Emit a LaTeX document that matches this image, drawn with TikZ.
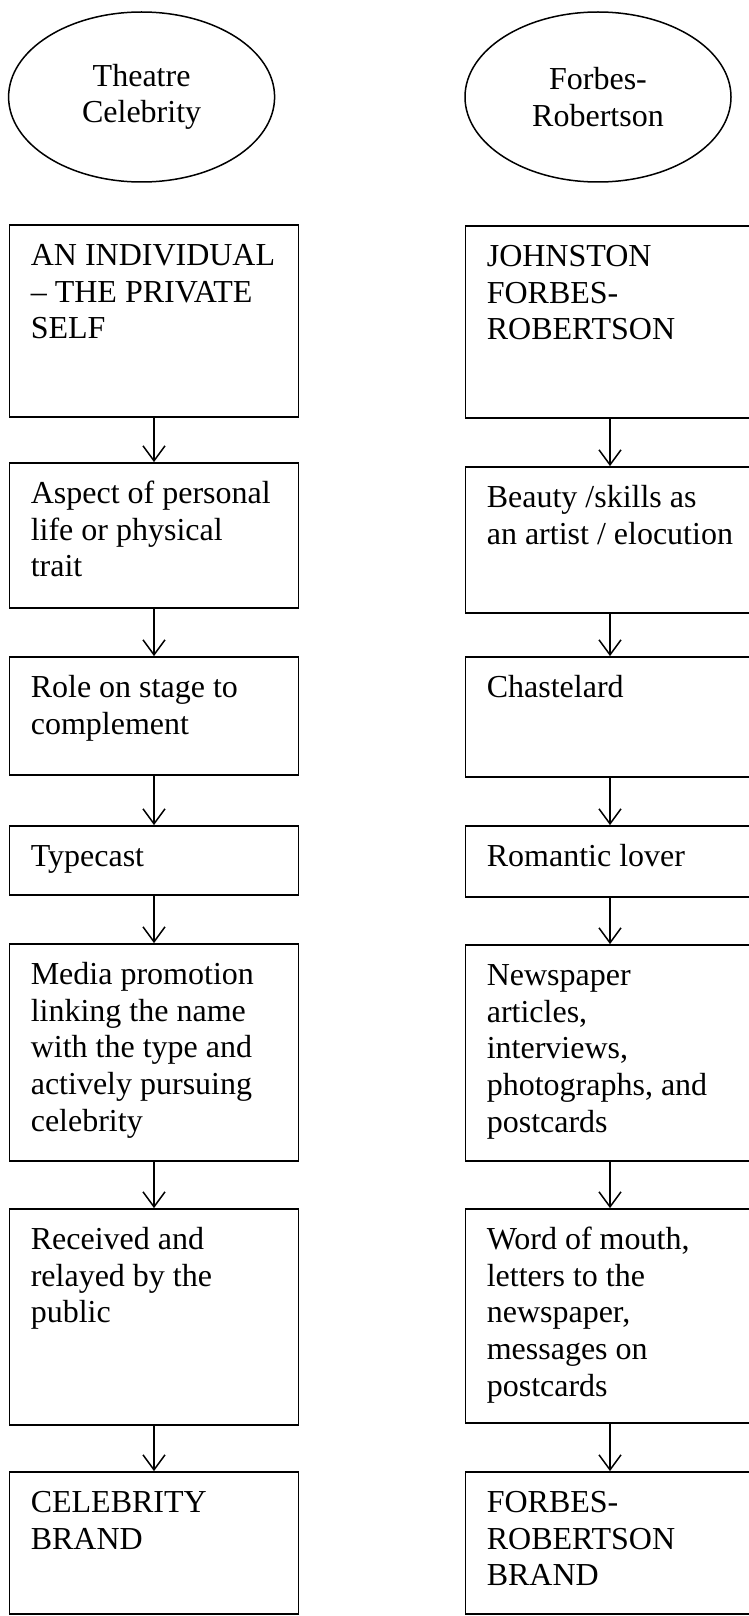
\documentclass[tikz,border=0pt]{standalone}
\usepackage{fontspec}
\setmainfont{Liberation Serif}
\usetikzlibrary{shapes.geometric,arrows.meta}
\tikzset{
  box/.style={draw, line width=1.8pt, rectangle, minimum width=289pt, inner sep=0pt},
  txt/.style={anchor=north west, inner sep=0pt, align=left, font=\fontsize{32}{36.7}\selectfont},
  oval/.style={draw, line width=1.5pt, ellipse, minimum width=266pt, minimum height=170pt, inner sep=0pt, align=center, font=\fontsize{32}{36.7}\selectfont},
  arr/.style={line width=1.5pt, -{Straight Barb[length=15pt,width=22pt,line width=1.5pt]}}
}
\newcommand{\fl}{\rule{0pt}{25pt}}
\begin{document}
\begin{tikzpicture}[x=1pt,y=-1pt]
\useasboundingbox (0,0) rectangle (749,1616);
% ellipses
\node[oval] (LE) at (141.6,97) {Theatre\\Celebrity};
\node[oval] (RE) at (598,97) {Forbes-\\Robertson};
% left column
\node[box, minimum height=192pt] (L1) at (154,321) {};
\node[box, minimum height=145pt] (L2) at (154,535.5) {};
\node[box, minimum height=118pt] (L3) at (154,716) {};
\node[box, minimum height=69pt] (L4) at (154,860.5) {};
\node[box, minimum height=217pt] (L5) at (154,1052.5) {};
\node[box, minimum height=216pt] (L6) at (154,1317) {};
\node[box, minimum height=142pt] (L7) at (154,1543) {};
% right column
\node[box, minimum height=192pt] (R1) at (610,322) {};
\node[box, minimum height=146pt] (R2) at (610,540) {};
\node[box, minimum height=120pt] (R3) at (610,717) {};
\node[box, minimum height=71pt] (R4) at (610,861.5) {};
\node[box, minimum height=216pt] (R5) at (610,1053) {};
\node[box, minimum height=214pt] (R6) at (610,1316) {};
\node[box, minimum height=142pt] (R7) at (610,1543) {};
% texts left
\node[txt] (L1t) at ([xshift=22pt,yshift=-16pt]L1.north west) {\fl AN INDIVIDUAL\\– THE PRIVATE\\SELF};
\node[txt] (L2t) at ([xshift=22pt,yshift=-16pt]L2.north west) {\fl Aspect of personal\\life or physical\\trait};
\node[txt] (L3t) at ([xshift=22pt,yshift=-16pt]L3.north west) {\fl Role on stage to\\complement};
\node[txt] (L4t) at ([xshift=22pt,yshift=-16pt]L4.north west) {\fl Typecast};
\node[txt] (L5t) at ([xshift=22pt,yshift=-16pt]L5.north west) {\fl Media promotion\\linking the name\\with the type and\\actively pursuing\\celebrity};
\node[txt] (L6t) at ([xshift=22pt,yshift=-16pt]L6.north west) {\fl Received and\\relayed by the\\public};
\node[txt] (L7t) at ([xshift=22pt,yshift=-16pt]L7.north west) {\fl CELEBRITY\\BRAND};
% texts right
\node[txt] (R1t) at ([xshift=22pt,yshift=-16pt]R1.north west) {\fl JOHNSTON\\FORBES-\\ROBERTSON};
\node[txt] (R2t) at ([xshift=22pt,yshift=-16pt]R2.north west) {\fl Beauty /skills as\\an artist / elocution};
\node[txt] (R3t) at ([xshift=22pt,yshift=-16pt]R3.north west) {\fl Chastelard};
\node[txt] (R4t) at ([xshift=22pt,yshift=-16pt]R4.north west) {\fl Romantic lover};
\node[txt] (R5t) at ([xshift=22pt,yshift=-16pt]R5.north west) {\fl Newspaper\\articles,\\interviews,\\photographs, and\\postcards};
\node[txt] (R6t) at ([xshift=22pt,yshift=-16pt]R6.north west) {\fl Word of mouth,\\letters to the\\newspaper,\\messages on\\postcards};
\node[txt] (R7t) at ([xshift=22pt,yshift=-16pt]R7.north west) {\fl FORBES-\\ROBERTSON\\BRAND};
% arrows
\foreach \a/\b in {1/2,2/3,3/4,4/5,5/6,6/7}{
  \draw[arr] (L\a.south) -- (L\b.north);
  \draw[arr] (R\a.south) -- (R\b.north);
}
\end{tikzpicture}
\end{document}
